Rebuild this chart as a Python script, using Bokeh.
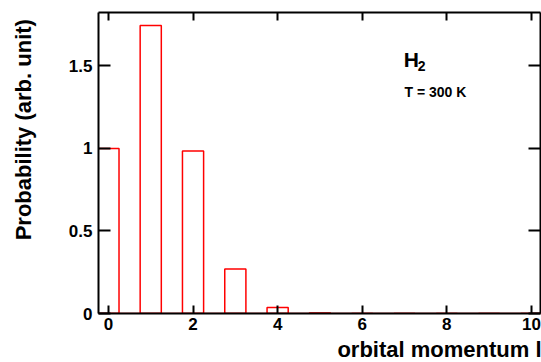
from bokeh.plotting import figure
from bokeh.layouts import row
from bokeh.models import Range1d, LinearAxis, FixedTicker, Label, ColumnDataSource, Title
from bokeh.core.properties import value
from bokeh.embed import file_html
from bokeh.resources import INLINE
import numpy as np

# data
l_values = [0, 1, 2, 3, 4, 5, 6, 7, 8, 9, 10]
probability = [1.0, 1.745, 0.985, 0.27, 0.036, 0.003, 0.0, 0.0, 0.0, 0.0, 0.0]
x_ticks = [0, 2, 4, 6, 8, 10]
y_ticks = [0, 0.5, 1, 1.5]
y_tick_labels = {0: "0", 0.5: "0.5", 1: "1", 1.5: "1.5"}
bar_width = 0.5
y_title = "Probability (arb. unit)"
x_title = "orbital momentum l"

FONT = "Liberation Sans"
H = 362
LW = 40  # width of the strip holding the y title

# strip with the rotated y-axis title
lab = figure(width=LW, height=H, output_backend="svg", toolbar_location=None,
             x_range=Range1d(0, LW), y_range=Range1d(0, H),
             x_axis_location=None, y_axis_location=None,
             min_border=0, outline_line_color=None)
lab.xgrid.visible = False
lab.ygrid.visible = False
lab.text(x=[23], y=[H - 8], text=[y_title], angle=np.pi / 2,
         text_align="right", text_baseline="middle",
         text_font=value(FONT), text_font_style="bold", text_font_size="22px",
         text_color="black")

p = figure(width=541 - LW, height=H, output_backend="svg", toolbar_location=None,
           x_range=Range1d(-0.235, 10.215), y_range=Range1d(0, 1.824),
           x_axis_location=None, y_axis_location=None,
           min_border_left=98 - LW, min_border_right=1, min_border_top=12, min_border_bottom=49)
p.frame_width = 442
p.frame_height = 301
p.xgrid.visible = False
p.ygrid.visible = False
p.outline_line_color = None
p.background_fill_color = "white"

lv = np.array(l_values, dtype=float)
src = ColumnDataSource(dict(left=lv - bar_width / 2, right=lv + bar_width / 2,
                            top=probability, bottom=[0] * len(l_values)))
p.quad(left="left", right="right", top="top", bottom="bottom", source=src,
       fill_color=None, line_color="#ff0000", line_width=1.5)
p.segment(x0=[lv[0] - bar_width / 2], y0=[0], x1=[lv[-1] + bar_width / 2], y1=[0],
          line_color="#ff0000", line_width=1.5)

def style(ax, ticks, is_x, labels=True):
    ax.ticker = FixedTicker(ticks=ticks)
    ax.axis_line_width = 2
    ax.axis_line_color = "black"
    ax.major_tick_line_width = 2
    ax.major_tick_line_color = "black"
    ax.major_tick_in = 8 if is_x else 12
    ax.major_tick_out = 0
    ax.minor_tick_line_color = None
    ax.major_label_text_font = FONT
    ax.major_label_text_font_style = "bold"
    ax.major_label_text_font_size = "17px"
    ax.major_label_text_color = "black"
    if not labels:
        ax.major_label_overrides = {t: "" for t in ticks}
        ax.major_label_standoff = 0

xb = LinearAxis(); style(xb, x_ticks, True); xb.major_label_standoff = 4
yl = LinearAxis(); style(yl, y_ticks, False); yl.major_label_standoff = 6
yl.major_label_overrides = y_tick_labels
xt = LinearAxis(); style(xt, x_ticks, True, labels=False)
yr = LinearAxis(); style(yr, y_ticks, False, labels=False)
p.add_layout(xb, "below")
p.add_layout(yl, "left")
p.add_layout(xt, "above")
p.add_layout(yr, "right")

p.add_layout(Title(text=x_title, align="right", standoff=5, offset=-1,
                   text_font=FONT, text_font_style="bold", text_font_size="22px",
                   text_color="black"), "below")

p.add_layout(Label(x=6.98, y=1.54, text="H", text_align="left", text_baseline="middle",
                   text_font=FONT, text_font_style="bold", text_font_size="21px",
                   text_color="black"))
p.add_layout(Label(x=7.31, y=1.5, text="2", text_align="left", text_baseline="middle",
                   text_font=FONT, text_font_style="bold", text_font_size="14px",
                   text_color="black"))
p.add_layout(Label(x=7.0, y=1.34, text="T = 300 K", text_align="left", text_baseline="middle",
                   text_font=FONT, text_font_style="bold", text_font_size="14px",
                   text_color="black"))

layout = row(lab, p, spacing=0)
open("out.html", "w").write(file_html(layout, INLINE))
